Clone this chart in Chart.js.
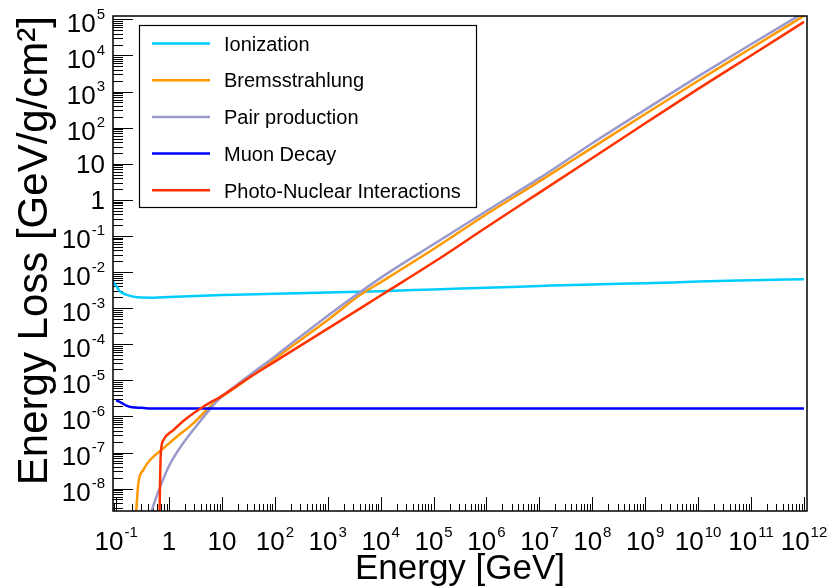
<!DOCTYPE html>
<html>
<head>
<meta charset="utf-8">
<script src="https://cdn.jsdelivr.net/npm/chart.js@4"></script>
<style>
  html, body { margin: 0; padding: 0; background: #fff; }
  #wrap { width: 834px; height: 588px; position: relative; }
</style>
</head>
<body>
<div id="wrap"><canvas id="chart"></canvas></div>
<script>
// ── DATA ─────────────────────────────────────────────────
const ionE     = [0.088, 0.1, 0.12, 0.15, 0.2, 0.3, 0.5, 1, 10, 100, 1e3, 1e4, 1e5, 1e6, 1e7, 1e8, 1e9, 1e10, 1e11, 1e12];
const ionLoss  = [5.4e-3, 4.1e-3, 2.85e-3, 2.4e-3, 2.12e-3, 1.96e-3, 1.95e-3, 2.03e-3, 2.3e-3, 2.5e-3, 2.72e-3, 2.95e-3, 3.3e-3, 3.67e-3, 4.1e-3, 4.55e-3, 4.9e-3, 5.45e-3, 5.9e-3, 6.35e-3];

const bremE    = [0.238, 0.263, 0.327, 0.438, 0.78, 1.4, 2.88, 5.95, 9.2, 25.4, 100, 1e3, 4.06e3, 1e4, 1e5, 1e6, 1e7, 1e8, 1e9, 1e10, 1e11, 1e12];
const bremLoss = [2e-9, 1.4e-8, 3.3e-8, 6.2e-8, 1.3e-7, 2.74e-7, 6.4e-7, 1.86e-6, 3.2e-6, 9.0e-6, 4.0e-5, 4.7e-4, 2.3e-3, 5.2e-3, 0.0434, 0.40, 3.25, 28, 240, 2000, 1.58e4, 1.26e5];

const pairE    = [0.447, 0.676, 1.044, 1.86, 3.34, 5.95, 9.2, 25.4, 100, 1e3, 1e4, 1e5, 1e6, 1e7, 1e8, 1e9, 1e10, 1e11, 1e12];
const pairLoss = [2e-9, 1.1e-8, 4.8e-8, 1.83e-7, 5.6e-7, 1.6e-6, 3.2e-6, 1.02e-5, 4.6e-5, 6.2e-4, 6.9e-3, 0.059, 0.49, 4.0, 37, 316, 2630, 2.04e4, 1.55e5];

const muE      = [0.1, 0.13, 0.15, 0.2, 0.3, 0.4, 1, 10, 100, 1e3, 1e4, 1e5, 1e6, 1e7, 1e8, 1e9, 1e10, 1e11, 1e12];
const muLoss   = [2.84e-6, 2.35e-6, 2.07e-6, 1.79e-6, 1.73e-6, 1.67e-6, 1.67e-6, 1.67e-6, 1.67e-6, 1.67e-6, 1.67e-6, 1.67e-6, 1.67e-6, 1.67e-6, 1.67e-6, 1.67e-6, 1.67e-6, 1.67e-6, 1.67e-6];

const photoE    = [0.661, 0.697, 0.78, 1.21, 2.16, 4.45, 10.6, 29.4, 100, 1e3, 1e4, 1e5, 1e6, 1e7, 1e8, 1e9, 1e10, 1e11, 1e12];
const photoLoss = [2e-9, 8.5e-8, 2.2e-7, 4.2e-7, 8.9e-7, 1.86e-6, 3.9e-6, 1.07e-5, 3.3e-5, 2.7e-4, 2.24e-3, 0.0186, 0.174, 1.59, 14.5, 132, 1190, 1.0e4, 8.5e4];

const seriesNames  = ['Ionization', 'Bremsstrahlung', 'Pair production', 'Muon Decay', 'Photo-Nuclear Interactions'];
const seriesColors = ['#00ccff', '#ff9900', '#9999cc', '#0000ff', '#ff3300'];

// axis range + decade tick exponents
const xRange   = [0.0874, 1.14e12];
const yRange   = [2.4e-9, 1.24e5];
const xTickExp = [-1, 0, 1, 2, 3, 4, 5, 6, 7, 8, 9, 10, 11, 12];
const yTickExp = [-8, -7, -6, -5, -4, -3, -2, -1, 0, 1, 2, 3, 4, 5];

const FONT = '"Liberation Sans", Arial, Helvetica, sans-serif';

const toPts = (xs, ys) => xs.map((x, i) => ({ x, y: ys[i] }));
const allData = [
  toPts(ionE, ionLoss), toPts(bremE, bremLoss), toPts(pairE, pairLoss),
  toPts(muE, muLoss), toPts(photoE, photoLoss)
];

// "10" + raised exponent, like ROOT's 10^{n}
const splitPow = (v) => {
  const n = Math.round(Math.log10(v));
  if (n === 0) return ['1', ''];
  if (n === 1) return ['10', ''];
  return ['10', String(n)];
};
const BASE_FONT = '26px ' + FONT;
const EXP_FONT  = '15px ' + FONT;

function drawPow(ctx, v, x, y, align) {
  const [base, exp] = splitPow(v);
  ctx.font = BASE_FONT;
  const wb = ctx.measureText(base).width;
  ctx.font = EXP_FONT;
  const we = exp ? ctx.measureText(exp).width + 1 : 0;
  const x0 = align === 'center' ? x - (wb + we) / 2 : x - (wb + we);
  ctx.font = BASE_FONT;
  ctx.fillText(base, x0, y);
  if (exp) {
    ctx.font = EXP_FONT;
    ctx.fillText(exp, x0 + wb + 1, y - 13);
  }
}

// ── ROOT-ish frame, inward ticks, labels, legend ─────────
const frameTicks = {
  id: 'frameTicks',
  beforeDatasetsDraw(chart) {
    const { ctx, chartArea: a, scales: { x, y } } = chart;
    ctx.save();
    ctx.strokeStyle = '#000';
    ctx.lineWidth = 1;
    const decades = (s) => {
      const out = [];
      for (let n = Math.floor(Math.log10(s.min)); n <= Math.ceil(Math.log10(s.max)); n++) {
        for (let k = 1; k < 10; k++) {
          const v = k * Math.pow(10, n);
          if (v >= s.min && v <= s.max) out.push([v, k === 1]);
        }
      }
      return out;
    };
    decades(x).forEach(([v, major]) => {
      const p = Math.round(x.getPixelForValue(v)) + 0.5;
      ctx.beginPath();
      ctx.moveTo(p, a.bottom);
      ctx.lineTo(p, a.bottom - (major ? 14 : 7));
      ctx.stroke();
    });
    decades(y).forEach(([v, major]) => {
      const p = Math.round(y.getPixelForValue(v)) + 0.5;
      ctx.beginPath();
      ctx.moveTo(a.left, p);
      ctx.lineTo(a.left + (major ? 20 : 10), p);
      ctx.stroke();
    });

    // tick labels
    ctx.fillStyle = '#000';
    ctx.textAlign = 'left';
    ctx.textBaseline = 'alphabetic';
    x.ticks.forEach(t => drawPow(ctx, t.value, x.getPixelForValue(t.value), a.bottom + 39, 'center'));
    y.ticks.forEach(t => {
      const hasExp = splitPow(t.value)[1] !== '';
      drawPow(ctx, t.value, a.left - 8, y.getPixelForValue(t.value) + (hasExp ? 12.5 : 9.5), 'right');
    });
    ctx.restore();
  },
  afterDraw(chart) {
    const { ctx, chartArea: a } = chart;
    ctx.save();
    ctx.strokeStyle = '#000';
    ctx.lineWidth = 1.5;
    ctx.strokeRect(a.left, a.top, a.right - a.left, a.bottom - a.top);

    // legend box
    const bx = a.left + 26, by = a.top + 9, bw = 337, bh = 182;
    ctx.fillStyle = '#fff';
    ctx.fillRect(bx, by, bw, bh);
    ctx.lineWidth = 1.2;
    ctx.strokeRect(bx + 0.5, by + 0.5, bw, bh);
    ctx.font = '20px ' + FONT;
    ctx.textBaseline = 'alphabetic';
    chart.data.datasets.forEach((ds, i) => {
      const ly = by + 18.5 + i * 36.7;
      ctx.strokeStyle = ds.borderColor;
      ctx.lineWidth = 2.5;
      ctx.beginPath();
      ctx.moveTo(bx + 13, ly);
      ctx.lineTo(bx + 71, ly);
      ctx.stroke();
      ctx.fillStyle = '#000';
      ctx.fillText(ds.label, bx + 85, ly + 7.2);
    });
    ctx.restore();
  }
};

const config = {
  type: 'line',
  data: {
    datasets: seriesNames.map((name, i) => ({
      label: name,
      data: allData[i],
      borderColor: seriesColors[i],
      backgroundColor: seriesColors[i],
      borderWidth: 2.5,
      pointRadius: 0,
      cubicInterpolationMode: 'monotone',
      fill: false,
      order: 5 - i
    }))
  },
  options: {
    responsive: true,
    maintainAspectRatio: false,
    animation: false,
    layout: { padding: { top: 16, right: 27, left: 0, bottom: 0 } },
    plugins: { legend: { display: false }, tooltip: { enabled: false } },
    scales: {
      x: {
        type: 'logarithmic',
        min: xRange[0],
        max: xRange[1],
        afterBuildTicks: (s) => { s.ticks = xTickExp.map(n => ({ value: Math.pow(10, n) })); },
        afterFit: (s) => { s.height = 77; s.paddingLeft = 0; s.paddingRight = 0; },
        grid: { display: false, drawTicks: false },
        border: { display: false },
        ticks: { display: false },
        title: {
          display: true, text: 'Energy [GeV]', color: '#000',
          font: { family: FONT, size: 35, lineHeight: 1 },
          padding: { top: 0, bottom: 1 }
        }
      },
      y: {
        type: 'logarithmic',
        min: yRange[0],
        max: yRange[1],
        afterBuildTicks: (s) => { s.ticks = yTickExp.map(n => ({ value: Math.pow(10, n) })); },
        afterFit: (s) => { s.width = 113; s.paddingTop = 0; s.paddingBottom = 0; },
        grid: { display: false, drawTicks: false },
        border: { display: false },
        ticks: { display: false },
        title: {
          display: true, text: 'Energy Loss [GeV/g/cm\u00b2]', color: '#000',
          align: 'end',
          font: { family: FONT, size: 42, lineHeight: 1 },
          padding: { top: 14, bottom: 0 }
        }
      }
    }
  },
  plugins: [frameTicks]
};

new Chart(document.getElementById('chart').getContext('2d'), config);
</script>
</body>
</html>
